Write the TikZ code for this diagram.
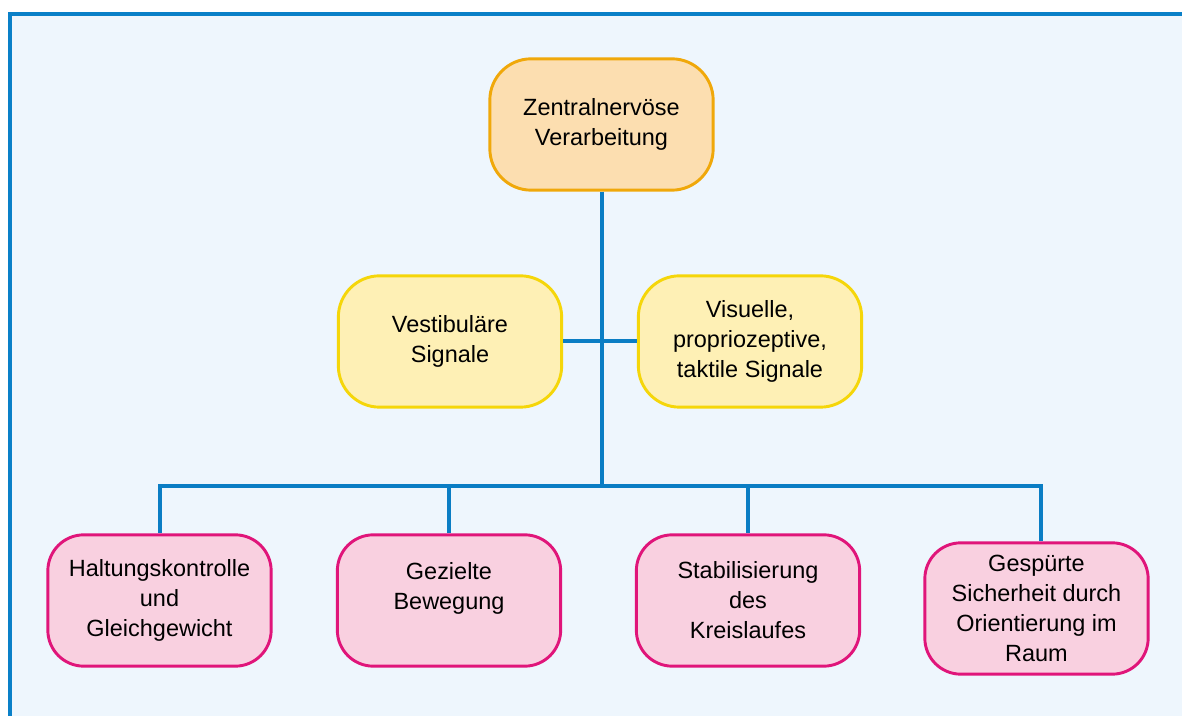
\documentclass[tikz,border=0pt]{standalone}
\usepackage{fontspec}
\setmainfont{Liberation Sans}
\usetikzlibrary{calc}
\definecolor{bgblue}{HTML}{EEF6FD}
\definecolor{frameblue}{HTML}{0A80C8}
\definecolor{linkblue}{HTML}{0A7DC4}
\definecolor{topfill}{HTML}{FCDEB0}
\definecolor{topdraw}{HTML}{F0A80A}
\definecolor{midfill}{HTML}{FEF0B5}
\definecolor{middraw}{HTML}{F5D60A}
\definecolor{botfill}{HTML}{F9D0E0}
\definecolor{botdraw}{HTML}{E0157A}
\tikzset{
  box/.style={rectangle, rounded corners=31pt, line width=2.2pt,
    minimum width=167.5pt, minimum height=98.5pt, align=center, inner sep=0pt,
    font=\fontsize{17.6pt}{22.5pt}\selectfont, text=black},
  topbox/.style={box, fill=topfill, draw=topdraw},
  midbox/.style={box, fill=midfill, draw=middraw},
  botbox/.style={box, fill=botfill, draw=botdraw, rounded corners=27pt},
  conn/.style={draw=linkblue, line width=3pt},
}
\begin{document}
\begin{tikzpicture}[x=0.75pt,y=-0.75pt]
\useasboundingbox (0,0) rectangle (1182,716);
\fill[bgblue] (10,14) rectangle (1182,716);
\draw[frameblue, line width=3pt] (10,716) -- (10,14) -- (1182,14);

\node[topbox] (top) at (601.5,124.5) {Zentralnervöse\\ Verarbeitung};
\node[midbox] (midL) at (450,341.5) {Vestibuläre\\Signale};
\node[midbox] (midR) at (750,341.5) {Visuelle,\\propriozeptive,\\taktile Signale};
\node[botbox] (b1) at (159.5,600.5) {Haltungskontrolle\\und\\Gleichgewicht};
\node[botbox] (b2) at (449,600.5) {Gezielte\\Bewegung\\\mbox{}};
\node[botbox] (b3) at (748,600.5) {Stabilisierung\\des\\Kreislaufes};
\node[botbox] (b4) at (1036.5,608.5) {Gespürte\\Sicherheit durch\\Orientierung im\\Raum};

\coordinate (hub) at (601.5,486);
\coordinate (b4top) at ($(b4.north)+(4.5,0)$);

\draw[conn] (top.south) -- (hub);
\draw[conn] (midL.east) -- (midR.west);
\draw[conn] (hub) -| (b1.north);
\draw[conn] (hub) -| (b2.north);
\draw[conn] (hub) -| (b3.north);
\draw[conn] (hub) -| (b4top);
\end{tikzpicture}
\end{document}
